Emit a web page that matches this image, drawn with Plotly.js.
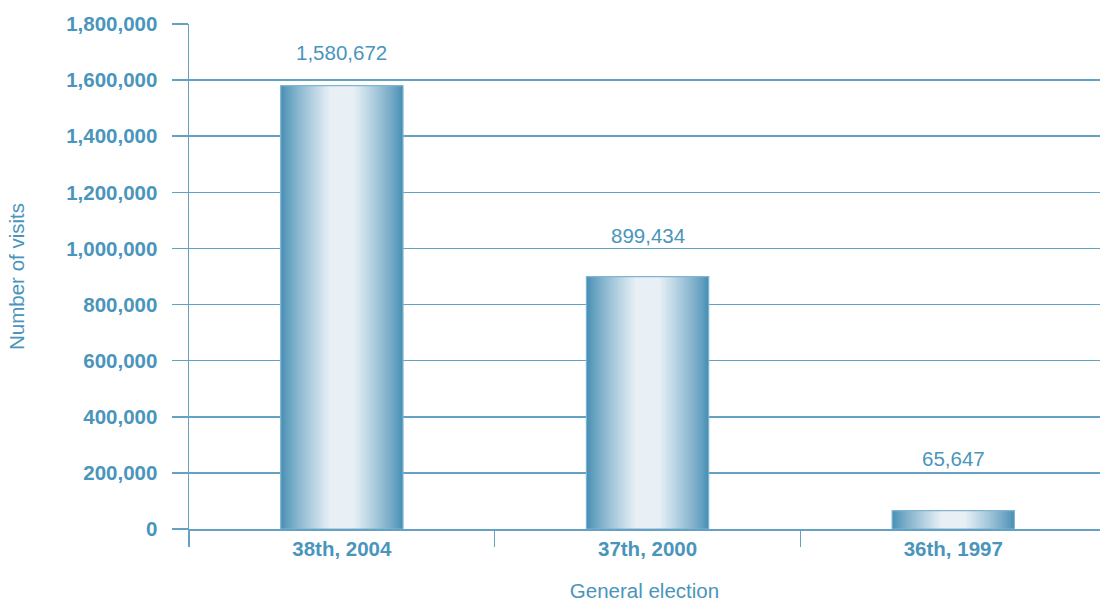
<!DOCTYPE html>
<html>
<head>
<meta charset="utf-8">
<script src="https://cdn.plot.ly/plotly-3.0.1.min.js"></script>
<style>html,body{margin:0;padding:0;background:#fff;}#chart{width:1100px;height:602px;}</style>
</head>
<body>
<div id="chart"></div>
<script>
// ---- data ----
const elections = ['38th, 2004', '37th, 2000', '36th, 1997'];
const visits = [1580672, 899434, 65647];
const yTickValues = [0, 200000, 400000, 600000, 800000, 1000000, 1200000, 1400000, 1600000, 1800000];

// ---- style ----
const TEXT = '#4a95bb';
const LINE = '#64a2c5';
const FONT = 'Liberation Sans, Arial, Helvetica, sans-serif';
const FS = 20.5;
const BAR_W = 0.4;
const N = 40;
const dark = [72, 143, 180];
const light = [232, 240, 246];
const labelShift = [33, 41, 52];

function shade(d) {
  // d: distance from bar edge as fraction of half-width (0 = edge, 1 = centre)
  const s = d >= 0.8 ? 1 : Math.pow(d / 0.8, 0.85);
  const c = dark.map((v, k) => Math.round(v + (light[k] - v) * s));
  return 'rgb(' + c.join(',') + ')';
}

// nested bars: widest (darkest) first, narrower lighter ones on top -> smooth cylinder shading
const traces = [];
for (let k = 0; k < N; k++) {
  const w = BAR_W * (1 - k / N);
  traces.push({
    type: 'bar',
    x: elections,
    y: visits,
    width: w,
    marker: {color: shade(k / N), line: {width: 0}},
    hoverinfo: 'skip',
    showlegend: false
  });
}
// outline on top
traces.push({
  type: 'bar',
  x: elections,
  y: visits,
  width: BAR_W,
  marker: {color: 'rgba(0,0,0,0)', line: {width: 1.2, color: '#80b4d2'}},
  hoverinfo: 'skip',
  showlegend: false
});

const annotations = elections.map((c, i) => ({
  x: c, y: visits[i], xref: 'x', yref: 'y',
  text: visits[i].toLocaleString('en-US'),
  showarrow: false, yanchor: 'middle', yshift: labelShift[i],
  font: {family: FONT, size: FS, color: TEXT}
}));

const layout = {
  width: 1100, height: 602,
  margin: {l: 189, r: 0, t: 24, b: 73},
  paper_bgcolor: '#fff', plot_bgcolor: '#fff',
  barmode: 'overlay',
  showlegend: false,
  xaxis: {
    type: 'category',
    range: [-0.5, 2.48],
    tickson: 'boundaries',
    ticks: 'outside', ticklen: 16, tickwidth: 1.5, tickcolor: LINE,
    showline: true, linecolor: LINE, linewidth: 1.5,
    showgrid: false, zeroline: false,
    ticklabelstandoff: 1,
    tickfont: {family: FONT, size: FS, color: TEXT, weight: 'bold'},
    title: {text: 'General election', font: {family: FONT, size: FS, color: TEXT}, standoff: 24}
  },
  yaxis: {
    range: [0, 1800000],
    tickvals: yTickValues,
    tickformat: ',d',
    ticks: 'outside', ticklen: 16, tickwidth: 1.5, tickcolor: LINE,
    showline: true, linecolor: LINE, linewidth: 1.5,
    showgrid: true, gridcolor: LINE, gridwidth: 1.5,
    zeroline: false,
    ticklabelstandoff: 10,
    tickfont: {family: FONT, size: FS, color: TEXT, weight: 'bold'},
    title: {text: 'Number of visits', font: {family: FONT, size: FS, color: TEXT}, standoff: 36}
  },
  annotations: annotations
};

Plotly.newPlot('chart', traces, layout, {displayModeBar: false, staticPlot: true});
</script>
</body>
</html>
